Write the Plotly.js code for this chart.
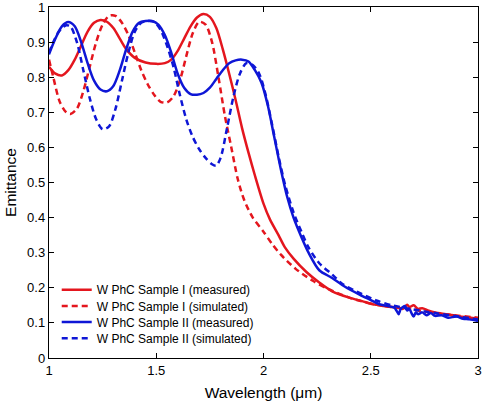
<!DOCTYPE html>
<html>
<head>
<meta charset="utf-8">
<script src="https://cdn.plot.ly/plotly-3.0.1.min.js"></script>
<style>html,body{margin:0;padding:0;background:#fff;}#chart{width:484px;height:402px;}</style>
</head>
<body>
<div id="chart"></div>
<script>
// ---- data ----
const seriesNames = [
  'W PhC Sample I (measured)',
  'W PhC Sample I (simulated)',
  'W PhC Sample II (measured)',
  'W PhC Sample II (simulated)'
];

const xRedMeasured = [1.00,1.03,1.06,1.09,1.12,1.15,1.18,1.21,1.24,1.27,1.30,1.33,1.36,1.40,1.45,1.50,1.54,1.57,1.60,1.63,1.66,1.69,1.72,1.75,1.78,1.81,1.84,1.87,1.90,1.93,1.96,2.00,2.03,2.07,2.10,2.14,2.20,2.26,2.32,2.40,2.46,2.52,2.56,2.60,2.63,2.65,2.67,2.68,2.70,2.72,2.74,2.77,2.80,2.85,2.90,2.95,3.00];
const yRedMeasured = [0.83,0.81,0.805,0.82,0.85,0.89,0.93,0.955,0.963,0.958,0.94,0.91,0.88,0.855,0.842,0.838,0.840,0.850,0.875,0.91,0.945,0.970,0.98,0.972,0.94,0.88,0.81,0.735,0.655,0.585,0.52,0.44,0.395,0.35,0.315,0.283,0.245,0.215,0.19,0.172,0.162,0.152,0.148,0.145,0.143,0.140,0.152,0.145,0.150,0.140,0.142,0.135,0.130,0.125,0.120,0.116,0.112];

const xRedSimulated = [1.00,1.02,1.05,1.08,1.10,1.13,1.16,1.19,1.22,1.25,1.28,1.31,1.34,1.37,1.40,1.43,1.46,1.49,1.52,1.55,1.58,1.61,1.64,1.67,1.70,1.73,1.76,1.79,1.82,1.85,1.88,1.91,1.95,2.00,2.04,2.08,2.15,2.23,2.30,2.40,2.50,2.60,2.70,2.80,2.90,3.00];
const yRedSimulated = [0.85,0.80,0.73,0.70,0.695,0.71,0.76,0.83,0.90,0.950,0.975,0.975,0.955,0.92,0.87,0.82,0.78,0.75,0.73,0.728,0.745,0.79,0.86,0.925,0.958,0.95,0.90,0.80,0.69,0.60,0.51,0.45,0.40,0.36,0.325,0.295,0.254,0.22,0.197,0.172,0.155,0.145,0.137,0.128,0.121,0.115];

const xBlueMeasured = [1.00,1.03,1.06,1.09,1.12,1.15,1.18,1.21,1.24,1.27,1.30,1.33,1.36,1.39,1.42,1.45,1.48,1.51,1.54,1.57,1.60,1.63,1.66,1.69,1.72,1.75,1.78,1.81,1.84,1.87,1.90,1.93,1.96,1.99,2.02,2.05,2.08,2.11,2.14,2.18,2.21,2.26,2.32,2.38,2.45,2.50,2.54,2.58,2.61,2.62,2.63,2.64,2.66,2.67,2.68,2.69,2.70,2.71,2.72,2.74,2.76,2.78,2.80,2.83,2.86,2.90,2.93,2.96,3.00];
const yBlueMeasured = [0.865,0.91,0.945,0.957,0.945,0.90,0.84,0.79,0.765,0.76,0.775,0.82,0.88,0.93,0.955,0.96,0.96,0.95,0.92,0.87,0.81,0.77,0.752,0.75,0.755,0.77,0.795,0.82,0.84,0.848,0.85,0.845,0.82,0.785,0.72,0.63,0.54,0.46,0.40,0.34,0.30,0.25,0.228,0.203,0.18,0.165,0.153,0.148,0.143,0.135,0.125,0.14,0.148,0.135,0.14,0.128,0.118,0.13,0.125,0.13,0.122,0.128,0.12,0.122,0.115,0.118,0.112,0.11,0.105];

const xBlueSimulated = [1.00,1.02,1.04,1.06,1.08,1.10,1.13,1.16,1.19,1.22,1.25,1.28,1.31,1.34,1.37,1.40,1.43,1.46,1.49,1.52,1.55,1.58,1.61,1.64,1.67,1.70,1.73,1.76,1.78,1.80,1.83,1.86,1.89,1.92,1.95,1.98,2.01,2.04,2.07,2.10,2.14,2.18,2.21,2.26,2.32,2.37,2.45,2.53,2.60,2.70,2.80,2.90,3.00];
const yBlueSimulated = [0.87,0.90,0.925,0.94,0.948,0.945,0.90,0.82,0.74,0.68,0.652,0.66,0.71,0.79,0.87,0.93,0.955,0.96,0.958,0.935,0.89,0.83,0.75,0.68,0.63,0.595,0.57,0.552,0.548,0.57,0.655,0.745,0.81,0.84,0.835,0.81,0.75,0.665,0.575,0.495,0.415,0.355,0.315,0.27,0.238,0.21,0.185,0.163,0.15,0.138,0.128,0.119,0.11];

const xTickVals = [1, 1.5, 2, 2.5, 3];
const xTickText = ['1', '1.5', '2', '2.5', '3'];
const yTickVals = [0, 0.1, 0.2, 0.3, 0.4, 0.5, 0.6, 0.7, 0.8, 0.9, 1];
const yTickText = ['0', '0.1', '0.2', '0.3', '0.4', '0.5', '0.6', '0.7', '0.8', '0.9', '1'];

// ---- styling ----
const RED = 'rgb(228,22,30)';
const BLUE = 'rgb(14,22,214)';
const FONT = 'Liberation Sans, Arial, Helvetica, sans-serif';
const DASH = '6px,4px';

const traces = [
  {x: xRedMeasured, y: yRedMeasured, name: seriesNames[0], legend: 'legend',
   line: {color: RED, width: 2.5, dash: 'solid', shape: 'spline', smoothing: 0.8}},
  {x: xRedSimulated, y: yRedSimulated, name: seriesNames[1], legend: 'legend2',
   line: {color: RED, width: 2.5, dash: DASH, shape: 'spline', smoothing: 0.8}},
  {x: xBlueMeasured, y: yBlueMeasured, name: seriesNames[2], legend: 'legend3',
   line: {color: BLUE, width: 2.5, dash: 'solid', shape: 'spline', smoothing: 0.8}},
  {x: xBlueSimulated, y: yBlueSimulated, name: seriesNames[3], legend: 'legend4',
   line: {color: BLUE, width: 2.5, dash: DASH, shape: 'spline', smoothing: 0.8}}
].map(t => Object.assign({type: 'scatter', mode: 'lines', hoverinfo: 'skip'}, t));

function legendAt(y) {
  return {x: 0.018, y: y, xanchor: 'left', yanchor: 'middle',
          bgcolor: 'rgba(0,0,0,0)', borderwidth: 0,
          font: {family: FONT, size: 12, color: '#000'}};
}

const axisBase = {
  showline: true, linecolor: '#000', linewidth: 1.2, mirror: 'ticks',
  ticks: 'inside', ticklen: 5, tickwidth: 1, tickcolor: '#000',
  showgrid: false, zeroline: false, fixedrange: true,
  ticklabeloverflow: 'allow',
  tickfont: {family: FONT, size: 13, color: '#000'}
};

const layout = {
  width: 484, height: 402,
  margin: {l: 49, r: 6, t: 7, b: 44},
  paper_bgcolor: '#fff', plot_bgcolor: '#fff',
  font: {family: FONT, color: '#000'},
  showlegend: true,
  legend: legendAt(0.1946),
  legend2: legendAt(0.1484),
  legend3: legendAt(0.1023),
  legend4: legendAt(0.0561),
  xaxis: Object.assign({}, axisBase, {
    range: [1, 3], tickmode: 'array', tickvals: xTickVals, ticktext: xTickText,
    title: {text: 'Wavelength (μm)', font: {family: FONT, size: 15.5, color: '#000'}, standoff: 10}
  }),
  yaxis: Object.assign({}, axisBase, {
    range: [0, 1], tickmode: 'array', tickvals: yTickVals, ticktext: yTickText,
    title: {text: 'Emittance', font: {family: FONT, size: 15.5, color: '#000'}, standoff: 6}
  })
};

Plotly.newPlot('chart', traces, layout, {staticPlot: true, displayModeBar: false});
</script>
</body>
</html>
